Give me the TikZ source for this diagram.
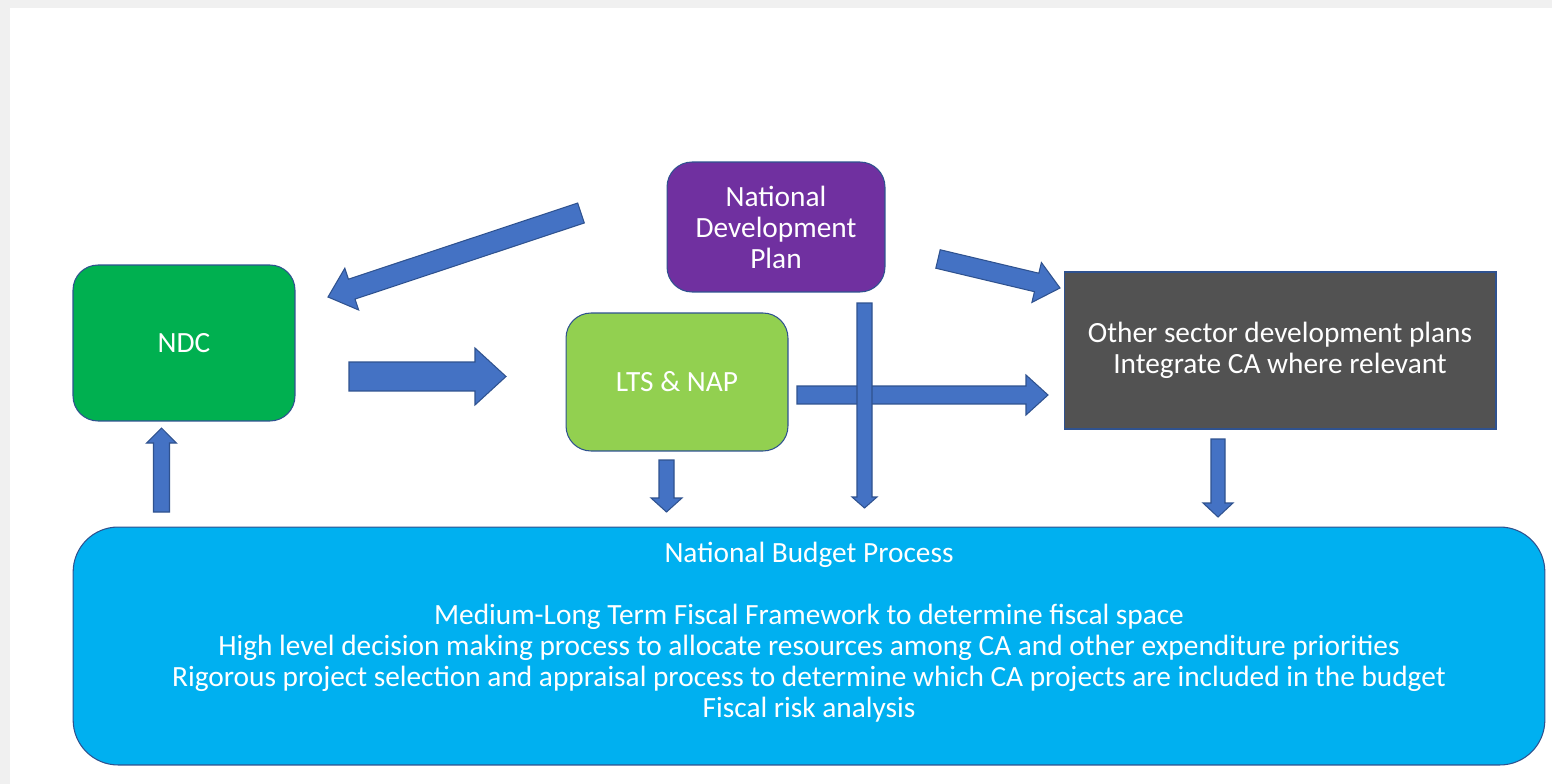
\documentclass[tikz,border=0pt]{standalone}
\usepackage{fontspec}
\setmainfont{Carlito}
\usetikzlibrary{calc}

\definecolor{ndcgreen}{HTML}{00B050}
\definecolor{ltsgreen}{HTML}{92D050}
\definecolor{ndppurple}{HTML}{7030A0}
\definecolor{sectorgray}{HTML}{525252}
\definecolor{budgetblue}{HTML}{00B0F0}
\definecolor{arrowblue}{HTML}{4472C4}
\definecolor{edgeblue}{HTML}{2F528F}
\definecolor{framegray}{HTML}{F0F0F0}

\tikzset{
  box/.style={draw=edgeblue, line width=0.6pt, text=white, align=center,
    inner sep=0pt, font=\fontsize{16.7}{17.6}\selectfont},
  blockarrow/.style={draw=edgeblue, line width=0.6pt, fill=arrowblue, line join=miter},
}

% fat arrow from #1 to #2; shaft width #3, head width #4, head length #5 (px)
\newcommand\blockarrow[5]{%
  \coordinate (ba-base) at ($(#2)!#5*0.02cm!(#1)$);
  \draw[blockarrow]
    ($(#1)!#3*0.01cm!90:(#2)$)
    -- ($(ba-base)!#3*0.01cm!-90:(#1)$)
    -- ($(ba-base)!#4*0.01cm!-90:(#1)$)
    -- (#2)
    -- ($(ba-base)!#4*0.01cm!90:(#1)$)
    -- ($(ba-base)!#3*0.01cm!90:(#1)$)
    -- ($(#1)!#3*0.01cm!-90:(#2)$) -- cycle;}

\begin{document}
\begin{tikzpicture}[x=0.02cm, y=-0.02cm]
\fill[framegray] (0,0) rectangle (1552,784);
\fill[white] (10,8) rectangle (1552,784);

% boxes
\node[box, fill=ndcgreen, rounded corners=0.5cm, minimum width=4.44cm, minimum height=3.12cm]
  (ndc) at (184,343) {NDC};
\node[box, fill=ndppurple, rounded corners=0.5cm, minimum width=4.36cm, minimum height=2.6cm]
  (ndp) at (776,227) {National\\Development\\Plan};
\node[box, fill=ltsgreen, rounded corners=0.5cm, minimum width=4.44cm, minimum height=2.76cm]
  (lts) at (677,382) {LTS \& NAP};
\node[box, fill=sectorgray, minimum width=8.64cm, minimum height=3.14cm]
  (sector) at (1280,350.5) {Other sector development plans\\Integrate CA where relevant};
\node[box, fill=budgetblue, rounded corners=0.9cm, minimum width=29.44cm, minimum height=4.76cm]
  (budget) at (809,646) {};
\node[box, draw=none] (budgettext) at (809,632) {National Budget Process\\[17.6pt]
  Medium-Long Term Fiscal Framework to determine fiscal space\\
  High level decision making process to allocate resources among CA and other expenditure priorities\\
  Rigorous project selection and appraisal process to determine which CA projects are included in the budget\\
  Fiscal risk analysis};

% arrow ends
\coordinate (ndp-ndc-a) at (581,213);
\coordinate (ndp-ndc-b) at (328,297);
\coordinate (ndp-sec-a) at (938,259);
\coordinate (ndp-sec-b) at (1060,288);
\coordinate (ndc-lts-a) at (349,376.5);
\coordinate (ndc-lts-b) at (506,376.5);
\coordinate (lts-sec-a) at (797,395);
\coordinate (lts-sec-b) at (1048,395);
\coordinate (ndp-bud-a) at (864.5,303);
\coordinate (ndp-bud-b) at (864.5,508);
\coordinate (lts-bud-a) at (666.5,460);
\coordinate (lts-bud-b) at (666.5,512);
\coordinate (sec-bud-a) at (1218,439);
\coordinate (sec-bud-b) at (1218,517);
\coordinate (bud-ndc-a) at (161.5,512);
\coordinate (bud-ndc-b) at (161.5,428);

\blockarrow{ndp-ndc-a}{ndp-ndc-b}{21}{44}{25}
\blockarrow{ndp-sec-a}{ndp-sec-b}{19}{41}{24}
\blockarrow{ndc-lts-a}{ndc-lts-b}{29}{57}{31}
\blockarrow{lts-sec-a}{lts-sec-b}{18}{40}{22}
\blockarrow{ndp-bud-a}{ndp-bud-b}{15}{25}{11}
\blockarrow{lts-bud-a}{lts-bud-b}{15}{31}{14}
\blockarrow{sec-bud-a}{sec-bud-b}{14}{30}{14}
\blockarrow{bud-ndc-a}{bud-ndc-b}{16}{30}{15}
\end{tikzpicture}
\end{document}
